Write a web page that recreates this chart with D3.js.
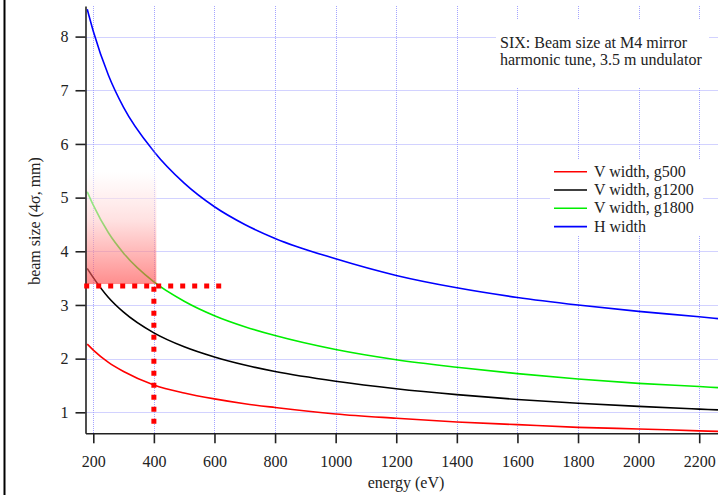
<!DOCTYPE html>
<html>
<head>
<meta charset="utf-8">
<script src="https://cdn.jsdelivr.net/npm/d3@7"></script>
<style>
  html, body { margin: 0; padding: 0; background: #fff; }
  svg { display: block; font-family: "Liberation Serif", "Times New Roman", serif; }
</style>
</head>
<body>
<svg id="chart" width="718" height="495"></svg>
<script>
// ---- data ----
const energy      = [180, 200, 250, 300, 400, 500, 600, 700, 800, 1000, 1200, 1400, 1600, 1800, 2000, 2200, 2262];
const vWidthG500  = [2.27, 2.16, 1.93, 1.76, 1.51, 1.36, 1.25, 1.16, 1.09, 0.97, 0.89, 0.82, 0.77, 0.72, 0.69, 0.655, 0.645];
const vWidthG1200 = [3.68, 3.51, 3.14, 2.866, 2.48, 2.22, 2.03, 1.88, 1.76, 1.58, 1.44, 1.33, 1.24, 1.17, 1.11, 1.06, 1.045];
const vWidthG1800 = [5.11, 4.86, 4.345, 3.965, 3.43, 3.07, 2.80, 2.595, 2.43, 2.17, 1.98, 1.84, 1.72, 1.62, 1.54, 1.48, 1.46];
const hWidth      = [8.51, 8.10, 7.28, 6.68, 5.86, 5.27, 4.83, 4.50, 4.24, 3.86, 3.55, 3.32, 3.14, 3.00, 2.88, 2.78, 2.745];
const seriesNames  = ["V width, g500", "V width, g1200", "V width, g1800", "H width"];
const seriesColors = ["#ff0000", "#000000", "#00ee00", "#0000ff"];
const xTicks = [200, 400, 600, 800, 1000, 1200, 1400, 1600, 1800, 2000, 2200];
const yTicks = [1, 2, 3, 4, 5, 6, 7, 8];
const xDomain = [174.3, 2262];
const yDomain = [0.609, 8.57];
const titleLines = ["SIX: Beam size at M4 mirror", "harmonic tune, 3.5 m undulator"];
const xLabel = "energy (eV)";
const yLabel = "beam size (4\u03c3, mm)";
// highlighted region and reference marker
const shadeEnergy = [174.3, 408];
const shadeSize   = [3.39, 6.0];
const refEnergy = 400;
const refSize = 3.355;
const refHEnergy = [170, 623];
const refVSize = [3.34, 0.78];

// ---- layout ----
const svg = d3.select("#chart");
const L = 85.5, R = 718, T = 6, B = 433.3;
const x = d3.scaleLinear().domain(xDomain).range([L, R]);
const y = d3.scaleLinear().domain(yDomain).range([B, T]);

// frame line on the far left
svg.append("line").attr("x1", 4.5).attr("x2", 4.5).attr("y1", 0).attr("y2", 495)
  .attr("stroke", "#000").attr("stroke-width", 2);

// grid
const grid = svg.append("g").attr("stroke", "#a4a4ff").attr("stroke-width", 1).attr("stroke-dasharray", "1,1");
grid.selectAll(".gx").data(xTicks).join("line")
  .attr("x1", d => Math.round(x(d)) + 0.5).attr("x2", d => Math.round(x(d)) + 0.5)
  .attr("y1", T).attr("y2", B);
grid.selectAll(".gy").data(yTicks).join("line")
  .attr("y1", d => Math.round(y(d)) + 0.5).attr("y2", d => Math.round(y(d)) + 0.5)
  .attr("x1", L).attr("x2", R);

// clip
svg.append("clipPath").attr("id", "clip").append("rect")
  .attr("x", L).attr("y", T).attr("width", R - L).attr("height", B - T);

const allSeries = [vWidthG500, vWidthG1200, vWidthG1800, hWidth];
const line = d3.line().x((d, i) => x(energy[i])).y(d => y(d)).curve(d3.curveMonotoneX);
const curves = svg.append("g").attr("clip-path", "url(#clip)");
curves.selectAll("path").data(allSeries).join("path")
  .attr("d", d => line(d))
  .attr("fill", "none")
  .attr("stroke", (d, i) => seriesColors[i])
  .attr("stroke-width", 1.6);

// gradient shaded region
const defs = svg.append("defs");
const grad = defs.append("linearGradient").attr("id", "shade").attr("x1", 0).attr("y1", 0).attr("x2", 0).attr("y2", 1);
grad.append("stop").attr("offset", "0%").attr("stop-color", "#ffffff").attr("stop-opacity", 0.0);
grad.append("stop").attr("offset", "20%").attr("stop-color", "#ffffff").attr("stop-opacity", 0.55);
grad.append("stop").attr("offset", "55%").attr("stop-color", "#ffcccc").attr("stop-opacity", 0.6);
grad.append("stop").attr("offset", "100%").attr("stop-color", "#ff4848").attr("stop-opacity", 0.62);
svg.append("rect")
  .attr("x", x(shadeEnergy[0])).attr("width", x(shadeEnergy[1]) - x(shadeEnergy[0]))
  .attr("y", y(shadeSize[1])).attr("height", y(shadeSize[0]) - y(shadeSize[1]))
  .attr("fill", "url(#shade)");

// axes
const yAxis = d3.axisLeft(y).tickValues(yTicks).tickSize(10).tickSizeOuter(0).tickPadding(7).tickFormat(d3.format("d"));
const xAxis = d3.axisBottom(x).tickValues(xTicks).tickSize(10).tickSizeOuter(0).tickPadding(12).tickFormat(d3.format("d"));
const gy = svg.append("g").attr("transform", `translate(${L},0)`).call(yAxis);
const gx = svg.append("g").attr("transform", `translate(0,${B})`).call(xAxis);
[gx, gy].forEach(g => {
  g.selectAll("path.domain").attr("stroke", "#222").attr("stroke-width", 1.6);
  g.selectAll(".tick line").attr("stroke", "#222").attr("stroke-width", 1.6);
  g.selectAll(".tick text").attr("fill", "#222").style("font-family", "Liberation Serif").style("font-size", "16px");
});

// reference dotted lines
svg.append("line")
  .attr("x1", x(refHEnergy[0])).attr("x2", x(refHEnergy[1]))
  .attr("y1", y(refSize)).attr("y2", y(refSize))
  .attr("stroke", "#ff0000").attr("stroke-width", 5).attr("stroke-dasharray", "5,7");
svg.append("line")
  .attr("x1", x(refEnergy)).attr("x2", x(refEnergy))
  .attr("y1", y(refVSize[0])).attr("y2", y(refVSize[1]))
  .attr("stroke", "#ff0000").attr("stroke-width", 5).attr("stroke-dasharray", "5,7");

// axis labels
svg.append("text").attr("x", 406).attr("y", 488).attr("text-anchor", "middle")
  .attr("font-size", 16).attr("fill", "#222").text(xLabel);
svg.append("text").attr("transform", "translate(40,221) rotate(-90)").attr("text-anchor", "middle")
  .attr("font-size", 16).attr("fill", "#222").text(yLabel);

// title box
svg.append("rect").attr("x", 496).attr("y", 20).attr("width", 213).attr("height", 68).attr("fill", "#fff");
svg.append("g").selectAll("text").data(titleLines).join("text")
  .attr("x", 500).attr("y", (d, i) => 48.3 + i * 17)
  .attr("font-size", 16).attr("fill", "#222").text(d => d);

// legend
svg.append("rect").attr("x", 550).attr("y", 160).attr("width", 153).attr("height", 75).attr("fill", "#fff");
const leg = svg.append("g").selectAll("g").data(seriesNames).join("g")
  .attr("transform", (d, i) => `translate(554,${171.7 + i * 18.3})`);
leg.append("line").attr("x1", 0).attr("x2", 33).attr("y1", 0).attr("y2", 0)
  .attr("stroke", (d, i) => seriesColors[i]).attr("stroke-width", 1.6);
leg.append("text").attr("x", 40).attr("y", 5).attr("font-size", 16).attr("fill", "#222").text(d => d);
</script>
</body>
</html>
